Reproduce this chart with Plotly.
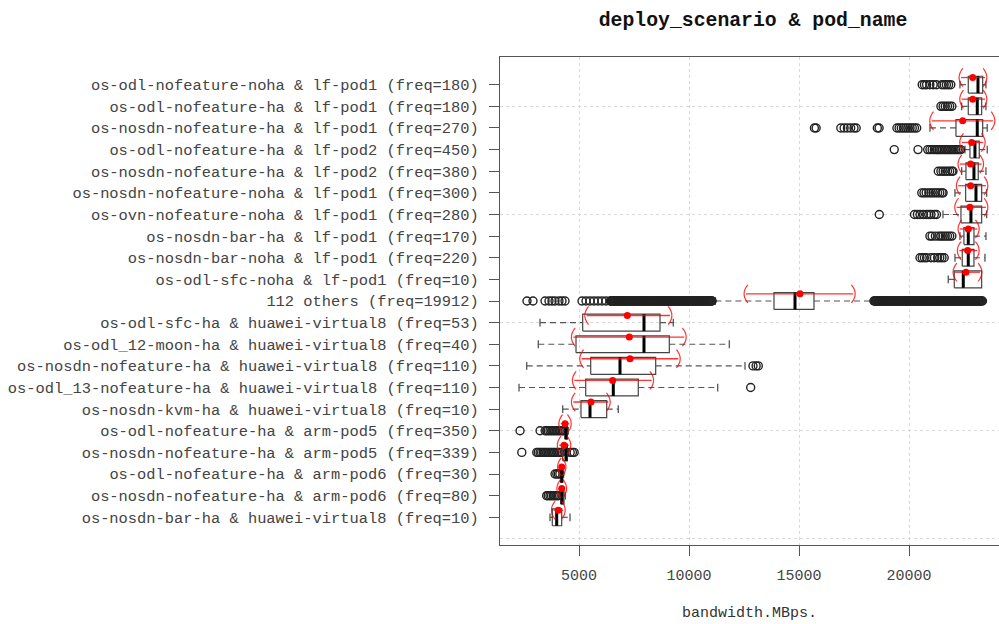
import plotly.graph_objects as go

# ---------------- data (top row first) ----------------
labels = [
    "os-odl-nofeature-noha & lf-pod1 (freq=180)",
    "os-odl-nofeature-ha & lf-pod1 (freq=180)",
    "os-nosdn-nofeature-ha & lf-pod1 (freq=270)",
    "os-odl-nofeature-ha & lf-pod2 (freq=450)",
    "os-nosdn-nofeature-ha & lf-pod2 (freq=380)",
    "os-nosdn-nofeature-noha & lf-pod1 (freq=300)",
    "os-ovn-nofeature-noha & lf-pod1 (freq=280)",
    "os-nosdn-bar-ha & lf-pod1 (freq=170)",
    "os-nosdn-bar-noha & lf-pod1 (freq=220)",
    "os-odl-sfc-noha & lf-pod1 (freq=10)",
    "112 others (freq=19912)",
    "os-odl-sfc-ha & huawei-virtual8 (freq=53)",
    "os-odl_12-moon-ha & huawei-virtual8 (freq=40)",
    "os-nosdn-nofeature-ha & huawei-virtual8 (freq=110)",
    "os-odl_13-nofeature-ha & huawei-virtual8 (freq=110)",
    "os-nosdn-kvm-ha & huawei-virtual8 (freq=10)",
    "os-odl-nofeature-ha & arm-pod5 (freq=350)",
    "os-nosdn-nofeature-ha & arm-pod5 (freq=339)",
    "os-odl-nofeature-ha & arm-pod6 (freq=30)",
    "os-nosdn-nofeature-ha & arm-pod6 (freq=80)",
    "os-nosdn-bar-ha & huawei-virtual8 (freq=10)",
]

q1 = [22694, 22694, 22135, 22771, 22589, 22575, 22362, 22498, 22421, 22058,
      13863, 5168, 4864, 5532, 5305, 5091, 4364, 4259, 4168, 4168, 3786]
median = [23135, 23103, 23103, 22998, 22953, 23044, 22816, 22694, 22694, 22467,
          14818, 7954, 7954, 6863, 6559, 5500, 4409, 4409, 4213, 4230, 3986]
q3 = [23349, 23303, 23349, 23194, 23148, 23303, 23303, 22953, 22953, 23303,
      15681, 8682, 9105, 8486, 7695, 6259, 4468, 4468, 4259, 4318, 4213]
whisker_lo = [22316, 22394, 20953, 22544, 22394, 22089, 21544, 22316, 22089, 21785,
              11200, 3227, 3150, 2623, 2273, 4259, 4330, 4230, 4140, 4100, 3682]
whisker_hi = [23498, 23498, 23557, 23557, 23498, 23530, 23530, 23498, 23453, 23303,
              18300, 9286, 11832, 12545, 11304, 6786, 4514, 4530, 4300, 4380, 4591]
means = [22894, 22894, 22440, 22848, 22803, 22803, 22771, 22694, 22667, 22589,
         15045, 7196, 7286, 7318, 6530, 5545, 4364, 4318, 4213, 4213, 4059]
ci_lo = [22362, 22394, 21030, 22394, 22316, 22239, 22166, 22316, 22285, 22089,
         12590, 5350, 4741, 5123, 4786, 4741, 4170, 4100, 4110, 4080, 3832]
ci_hi = [23453, 23453, 23817, 23376, 23303, 23498, 23498, 23103, 23103, 23226,
         17467, 9136, 9786, 9514, 8304, 6332, 4560, 4540, 4320, 4350, 4286]

outliers = [
    [20600, 20700, 20800, 20950, 21100, 21250, 21500, 21600, 21700, 21800, 21900],
    [21450, 21550, 21650, 21750, 21850, 21950],
    [15700, 15780, 16900, 17050, 17200, 17350, 17500, 17600, 18560, 18640,
     19450, 19550, 19650, 19750, 19850, 19950, 20050, 20150, 20250, 20350],
    [19330, 20410, 20850, 20950, 21050, 21150, 21250, 21300, 21380, 21450, 21520,
     21600, 21680, 21750, 21820, 21900, 21970, 22050, 22120, 22200, 22280, 22350],
    [21330, 21450, 21550, 21650, 21750, 21850, 21950, 22000],
    [20580, 20680, 20780, 20900, 21000, 21100, 21200, 21300, 21400, 21500, 21550],
    [18650, 20250, 20380, 20500, 20650, 20800, 20900, 21000, 21150, 21250],
    [20950, 21050, 21200, 21350, 21450, 21550, 21650, 21750, 21850, 21950],
    [20500, 20600, 20700, 20800, 21000, 21150, 21300, 21400, 21500, 21600],
    [],
    [2636, 2909, 3455, 3636, 3773, 3909, 4091, 4227, 4364,
     5136, 5318, 5500, 5682, 5864, 6045, 6227,
     6420, 6450, 6480, 6515, 6550, 6580, 6610, 6650, 6690, 6725, 6760, 6790,
     6820, 6860, 6900, 6935, 6970, 7000, 7030, 7070, 7110, 7145, 7180, 7215,
     7250, 7280, 7310, 7350, 7390, 7425, 7460, 7490, 7520, 7560, 7600, 7635,
     7670, 7705, 7740, 7770, 7800, 7840, 7880, 7915, 7950, 7985, 8020, 8055,
     8090, 8125, 8160, 8195, 8230, 8265, 8300, 8335, 8370, 8405, 8440, 8475,
     8510, 8545, 8580, 8615, 8650, 8685, 8720, 8755, 8790, 8825, 8860, 8895,
     8930, 8965, 9000, 9035, 9070, 9105, 9140, 9175, 9210, 9245, 9280, 9315,
     9350, 9385, 9420, 9455, 9490, 9525, 9560, 9595, 9630, 9665, 9700, 9735,
     9770, 9805, 9840, 9875, 9910, 9945, 9980, 10015, 10050, 10085, 10120,
     10155, 10190, 10225, 10260, 10295, 10330, 10365, 10400, 10435, 10470,
     10505, 10540, 10575, 10610, 10645, 10680, 10715, 10750, 10785, 10820,
     10855, 10890, 10925, 10960, 10995, 11030, 11050,
     18405, 18440, 18475, 18510, 18545,
     18580, 18615, 18650, 18685, 18720, 18755, 18790, 18825, 18860, 18895,
     18930, 18965, 19000, 19035, 19070, 19105, 19140, 19175, 19210, 19245,
     19280, 19315, 19350, 19385, 19420, 19455, 19490, 19525, 19560, 19595,
     19630, 19665, 19700, 19735, 19770, 19805, 19840, 19875, 19910, 19945,
     19980, 20015, 20050, 20085, 20120, 20155, 20190, 20225, 20260, 20295,
     20330, 20365, 20400, 20435, 20470, 20505, 20540, 20575, 20610, 20645,
     20680, 20715, 20750, 20785, 20820, 20855, 20890, 20925, 20960, 20995,
     21030, 21065, 21100, 21135, 21170, 21205, 21240, 21275, 21310, 21345,
     21380, 21415, 21450, 21485, 21520, 21555, 21590, 21625, 21660, 21695,
     21730, 21765, 21800, 21835, 21870, 21905, 21940, 21975, 22010, 22045,
     22080, 22115, 22150, 22185, 22220, 22255, 22290, 22325, 22360, 22395,
     22430, 22465, 22500, 22535, 22570, 22605, 22640, 22675, 22710, 22745,
     22780, 22815, 22850, 22885, 22920, 22955, 22990, 23025, 23060, 23095,
     23130, 23165, 23200, 23235, 23270, 23305, 23340],
    [],
    [],
    [12908, 13050, 13150],
    [12803],
    [],
    [2320, 3230, 3460, 3530, 3600, 3680, 3750, 3820, 3890, 3960, 4030, 4100,
     4170, 4240, 4290],
    [2400, 3080, 3150, 3230, 3300, 3380, 3450, 3520, 3600, 3680, 3750, 3830,
     3900, 3980, 4050, 4130, 4200, 4600, 4700, 4780],
    [3910, 3990, 4060, 4130],
    [3530, 3600, 3680, 3750, 3830, 3900, 3980, 4060],
    [],
]

x_ticks = [5000, 10000, 15000, 20000]

# ---------------- styling ----------------
BOX_H = 0.39
CAP_H = 0.18
RED_OFF = 0.33
PAREN_H = 0.42      # half height of the red brackets (axis units)
PAREN_W = 170       # bulge of the red brackets (x units, ~4 px)
FONT = "Liberation Mono"

n = len(labels)
pos = [n - i for i in range(n)]
paren_t = [-1.0, -0.75, -0.5, -0.25, 0.0, 0.25, 0.5, 0.75, 1.0]

bx, by, mx, my, wx, wy, cx, cy = [], [], [], [], [], [], [], []
ox, oy, rx, ry = [], [], [], []
parx, pary = [], []
for i in range(n):
    p = pos[i]
    bx += [q1[i], q3[i], q3[i], q1[i], q1[i], None]
    by += [p - BOX_H, p - BOX_H, p + BOX_H, p + BOX_H, p - BOX_H, None]
    mx += [median[i], median[i], None]
    my += [p - BOX_H, p + BOX_H, None]
    if whisker_lo[i] < q1[i]:
        wx += [whisker_lo[i], q1[i], None]
        wy += [p, p, None]
        cx += [whisker_lo[i], whisker_lo[i], None]
        cy += [p - CAP_H, p + CAP_H, None]
    if whisker_hi[i] > q3[i]:
        wx += [q3[i], whisker_hi[i], None]
        wy += [p, p, None]
        cx += [whisker_hi[i], whisker_hi[i], None]
        cy += [p - CAP_H, p + CAP_H, None]
    for o in outliers[i]:
        ox.append(o)
        oy.append(p)
    yc = p + RED_OFF
    rx += [ci_lo[i], ci_hi[i], None]
    ry += [yc, yc, None]
    # "(" at ci_lo and ")" at ci_hi drawn as thin arcs
    for t in paren_t:
        parx.append(ci_lo[i] - PAREN_W / 2 + PAREN_W * t * t)
        pary.append(yc + PAREN_H * t)
    parx.append(None); pary.append(None)
    for t in paren_t:
        parx.append(ci_hi[i] + PAREN_W / 2 - PAREN_W * t * t)
        pary.append(yc + PAREN_H * t)
    parx.append(None); pary.append(None)

fig = go.Figure()
fig.add_trace(go.Scatter(x=wx, y=wy, mode="lines",
                         line=dict(color="#555555", width=1.2, dash="6px,4px"),
                         hoverinfo="skip"))
fig.add_trace(go.Scatter(x=cx, y=cy, mode="lines",
                         line=dict(color="#555555", width=1.3), hoverinfo="skip"))
fig.add_trace(go.Scatter(x=ox, y=oy, mode="markers",
                         marker=dict(symbol="circle-open", size=8, color="#222222",
                                     line=dict(width=1.4)),
                         hoverinfo="x"))
fig.add_trace(go.Scatter(x=bx, y=by, mode="lines",
                         line=dict(color="#444444", width=1.2), hoverinfo="skip"))
fig.add_trace(go.Scatter(x=mx, y=my, mode="lines",
                         line=dict(color="#000000", width=3), hoverinfo="skip"))
fig.add_trace(go.Scatter(x=rx, y=ry, mode="lines",
                         line=dict(color="rgba(255,0,0,0.8)", width=1.3),
                         hoverinfo="skip"))
fig.add_trace(go.Scatter(x=parx, y=pary, mode="lines",
                         line=dict(color="rgba(255,0,0,0.8)", width=1.2,
                                   shape="spline"),
                         hoverinfo="skip"))
fig.add_trace(go.Scatter(x=means, y=[p + RED_OFF for p in pos], mode="markers",
                         marker=dict(color="#ff0000", size=7, symbol="circle"),
                         hoverinfo="x"))

fig.update_layout(
    width=999, height=624,
    margin=dict(l=500, r=0, t=57, b=79),
    paper_bgcolor="white", plot_bgcolor="white",
    showlegend=False,
    font=dict(family=FONT, size=15, color="#444444"),
    title=dict(text="<b>deploy_scenario & pod_name</b>",
               font=dict(family=FONT, size=19.8, color="#111111"),
               x=753 / 999, xref="container", xanchor="center",
               y=1 - 19 / 624, yref="container", yanchor="middle"),
    xaxis=dict(range=[1409, 24091], tickvals=x_ticks,
               ticktext=[str(v) for v in x_ticks],
               showgrid=True, gridcolor="#d9d9d9", griddash="dot", gridwidth=1,
               zeroline=False, showline=True, mirror=True,
               linecolor="#555555", linewidth=1.2,
               ticks="outside", ticklen=10, tickcolor="#555555",
               ticklabelstandoff=6,
               tickfont=dict(family=FONT, size=15, color="#444444"),
               title=dict(text="bandwidth.MBps.", standoff=22,
                          font=dict(family=FONT, size=15, color="#333333"))),
    yaxis=dict(range=[-0.28, 22.28], tickvals=pos, ticktext=labels,
               showgrid=False, zeroline=False,
               showline=True, mirror=False, linecolor="#555555", linewidth=1.2,
               ticks="outside", ticklen=10, tickcolor="#555555",
               ticklabelstandoff=7,
               tickfont=dict(family=FONT, size=15.4, color="#444444"),
               minor=dict(tick0=0, dtick=5, showgrid=True, gridcolor="#d9d9d9",
                          griddash="dot", ticklen=0)),
)

fig.write_html("out.html")
